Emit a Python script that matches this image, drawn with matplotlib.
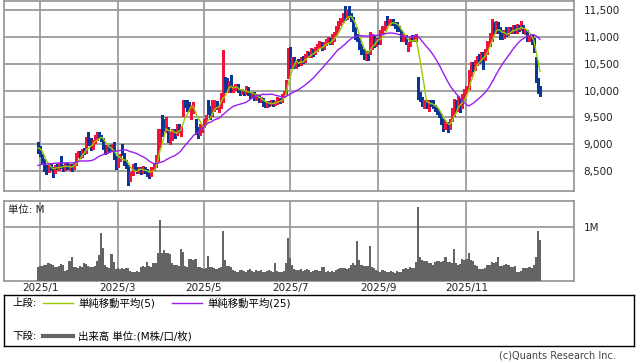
import numpy as np
import pandas as pd
import matplotlib
matplotlib.use("Agg")
from matplotlib import pyplot as plt

plt.rcParams['font.family'] = ['DejaVu Sans', 'Noto Sans CJK JP']

# ---- data, one trading day per entry, Dec 30 2024 .. Dec 2025
opens = [
    9000, 8930, 8800, 8700, 8600, 8500, 8620, 8550, 8480, 8600,
    8560, 8750, 8600, 8540, 8620, 8560, 8600, 8550, 8640, 8800,
    8850, 8780, 8900, 8850, 9200, 9100, 8950, 9050, 9100, 9200,
    9150, 9100, 8950, 8850, 8950, 8900, 9000, 8750, 8600, 8700,
    8900, 8820, 8650, 8600, 8350, 8450, 8600, 8550, 8500, 8540,
    8480, 8560, 8500, 8450, 8420, 8550, 8600, 8700, 8980, 9500,
    9450, 9250, 9300, 9050, 9100, 9250, 9200, 9350, 9180, 9550,
    9800, 9800, 9750, 9500, 9600, 9450, 9300, 9200, 9250, 9350,
    9450, 9800, 9700, 9550, 9650, 9780, 9620, 9700, 9800, 10200,
    10150, 10000, 10200, 10000, 10050, 10100, 10000, 9950, 10000, 9950,
    10050, 9950, 9900, 9950, 9850, 9900, 9800, 9850, 9750, 9720,
    9780, 9750, 9800, 9750, 9780, 9850, 9800, 9900, 9950, 10250,
    10800, 10450, 10600, 10450, 10550, 10500, 10600, 10550, 10650, 10700,
    10650, 10750, 10700, 10780, 10850, 10880, 10800, 10870, 10920, 10950,
    10900, 10950, 11050, 11150, 11250, 11300, 11550, 11350, 11500, 11400,
    11350, 11150, 11000, 10950, 10850, 10750, 10600, 10700, 10700, 10800,
    11000, 10850, 10950, 10900, 11100, 11150, 11350, 11250, 11250, 11300,
    11250, 11250, 11180, 11100, 10950, 11000, 10800, 10850, 11000, 10950,
    10950, 10200, 9950, 9850, 9700, 9800, 9650, 9800, 9800, 9700,
    9650, 9600, 9550, 9450, 9300, 9400, 9300, 9450, 9550, 9800,
    9650, 9850, 9700, 9850, 9950, 10050, 10300, 10500, 10400, 10500,
    10650, 10550, 10700, 10600, 10700, 10850, 10950, 11250, 11100, 11250,
    11150, 11100, 11000, 11150, 11050, 11150, 11100, 11200, 11100, 11200,
    11150, 11200, 11080, 11100, 10950, 11000, 10950, 10600, 10200, 10050,
]
closes = [
    8850, 8800, 8700, 8580, 8500, 8620, 8550, 8480, 8600, 8560,
    8620, 8600, 8540, 8620, 8560, 8600, 8550, 8640, 8800, 8850,
    8780, 8900, 8850, 9100, 9000, 8950, 9050, 9150, 9200, 9150,
    9100, 8950, 8850, 8950, 8900, 8980, 8750, 8580, 8700, 8780,
    8820, 8650, 8600, 8350, 8450, 8600, 8550, 8500, 8540, 8480,
    8560, 8500, 8450, 8400, 8550, 8600, 8700, 9250, 9250, 9200,
    9300, 9450, 9080, 9200, 9250, 9150, 9350, 9250, 9320, 9800,
    9750, 9650, 9650, 9700, 9750, 9250, 9150, 9350, 9350, 9450,
    9500, 9600, 9500, 9800, 9800, 9700, 9680, 9900, 10200, 10000,
    10050, 10150, 10000, 10050, 10100, 10000, 9950, 10000, 9950, 10050,
    9950, 9900, 9950, 9850, 9900, 9800, 9850, 9750, 9720, 9780,
    9750, 9800, 9750, 9780, 9850, 9800, 9900, 9950, 10150, 10750,
    10450, 10600, 10450, 10550, 10500, 10600, 10550, 10650, 10700, 10650,
    10750, 10700, 10780, 10820, 10880, 10800, 10870, 10920, 10950, 10900,
    11000, 11050, 11150, 11250, 11300, 11400, 11350, 11450, 11400, 11350,
    11150, 11000, 10950, 10800, 10700, 10620, 10700, 10650, 11050, 11000,
    10850, 10950, 10900, 11100, 11150, 11250, 11250, 11300, 11300, 11250,
    11200, 11150, 11150, 10950, 11000, 10900, 10850, 10950, 10950, 11000,
    11020, 9900, 9850, 9750, 9800, 9700, 9800, 9750, 9700, 9650,
    9600, 9550, 9400, 9300, 9400, 9300, 9450, 9650, 9800, 9650,
    9850, 9700, 9900, 10000, 10050, 10350, 10500, 10400, 10550, 10600,
    10550, 10700, 10650, 10750, 10900, 11050, 11200, 11100, 11250, 11100,
    11000, 11000, 11100, 11050, 11150, 11100, 11200, 11100, 11200, 11150,
    11250, 11100, 11120, 10950, 11000, 10900, 10750, 10200, 10000, 9950,
]
highs = [
    9050, 8960, 8820, 8720, 8620, 8650, 8650, 8580, 8620, 8640,
    8650, 8780, 8620, 8650, 8650, 8640, 8630, 8660, 8830, 8880,
    8870, 8920, 8930, 9130, 9230, 9120, 9080, 9170, 9230, 9220,
    9180, 9120, 8980, 8990, 8980, 9010, 9040, 8780, 8740, 8820,
    9000, 8840, 8700, 8620, 8480, 8640, 8660, 8580, 8580, 8570,
    8590, 8580, 8530, 8480, 8570, 8650, 8800, 9280, 9280, 9550,
    9480, 9500, 9320, 9230, 9280, 9280, 9380, 9370, 9350, 9830,
    9830, 9830, 9780, 9730, 9790, 9480, 9330, 9380, 9380, 9480,
    9540, 9830, 9720, 9830, 9830, 9800, 9720, 9950, 10760, 10250,
    10240, 10180, 10300, 10080, 10130, 10120, 10030, 10040, 10020, 10080,
    10070, 9980, 9980, 9970, 9930, 9920, 9880, 9870, 9780, 9800,
    9810, 9830, 9820, 9810, 9880, 9870, 9930, 10000, 10200, 10800,
    10820, 10630, 10620, 10580, 10600, 10630, 10640, 10680, 10750, 10730,
    10800, 10780, 10820, 10870, 10920, 10900, 10900, 10960, 11000, 10980,
    11050, 11100, 11200, 11300, 11350, 11450, 11580, 11500, 11580, 11450,
    11380, 11180, 11050, 10980, 10880, 10780, 10730, 10740, 11100, 11050,
    11020, 10980, 10980, 11130, 11200, 11300, 11400, 11340, 11330, 11330,
    11280, 11280, 11200, 11130, 11050, 11030, 10900, 10980, 11030, 11030,
    11050, 10250, 9980, 9880, 9830, 9830, 9830, 9830, 9820, 9730,
    9680, 9630, 9570, 9470, 9430, 9420, 9480, 9680, 9850, 9830,
    9900, 9870, 9930, 10030, 10080, 10380, 10530, 10530, 10580, 10650,
    10680, 10730, 10730, 10780, 10930, 11080, 11330, 11280, 11300, 11280,
    11180, 11130, 11130, 11180, 11180, 11180, 11230, 11230, 11250, 11230,
    11300, 11230, 11150, 11130, 11030, 11030, 10980, 10620, 10230, 10080,
]
lows = [
    8830, 8780, 8650, 8500, 8450, 8480, 8520, 8390, 8460, 8530,
    8520, 8560, 8500, 8520, 8530, 8520, 8510, 8530, 8620, 8760,
    8740, 8760, 8820, 8830, 8980, 8900, 8920, 9020, 9080, 9120,
    9060, 8920, 8820, 8830, 8860, 8880, 8720, 8540, 8580, 8680,
    8800, 8620, 8560, 8240, 8320, 8430, 8520, 8460, 8470, 8450,
    8460, 8470, 8400, 8370, 8400, 8520, 8580, 8680, 8950, 9150,
    9250, 9230, 9050, 9000, 9080, 9120, 9180, 9220, 9150, 9530,
    9700, 9620, 9620, 9480, 9580, 9200, 9120, 9170, 9220, 9330,
    9420, 9570, 9470, 9530, 9620, 9660, 9600, 9680, 9780, 9980,
    10020, 9980, 9980, 9970, 10020, 9970, 9920, 9930, 9920, 9930,
    9920, 9870, 9880, 9830, 9830, 9780, 9780, 9720, 9700, 9700,
    9720, 9730, 9720, 9730, 9760, 9770, 9780, 9880, 9930, 10230,
    10420, 10430, 10420, 10430, 10470, 10480, 10520, 10530, 10620, 10620,
    10630, 10650, 10680, 10750, 10820, 10760, 10780, 10850, 10900, 10870,
    10880, 10930, 11030, 11120, 11220, 11280, 11320, 11330, 11380, 11300,
    11120, 10970, 10920, 10770, 10680, 10600, 10580, 10580, 10680, 10780,
    10820, 10830, 10870, 10880, 11080, 11130, 11230, 11220, 11230, 11220,
    11170, 11120, 11120, 10920, 10930, 10870, 10750, 10830, 10920, 10930,
    10930, 9850, 9800, 9720, 9680, 9670, 9630, 9720, 9670, 9620,
    9570, 9500, 9380, 9250, 9280, 9220, 9280, 9430, 9530, 9620,
    9630, 9600, 9680, 9830, 9930, 10030, 10280, 10370, 10380, 10480,
    10520, 10530, 10400, 10580, 10680, 10830, 10930, 11070, 11080, 11070,
    10970, 10970, 10980, 11020, 11030, 11070, 11080, 11070, 11080, 11120,
    11130, 11070, 11060, 10920, 10930, 10870, 10720, 10170, 9950, 9900,
]
# volume in millions of shares
volumes = [
    0.25, 0.27, 0.28, 0.29, 0.30, 0.32, 0.31, 0.30, 0.26, 0.25,
    0.27, 0.31, 0.30, 0.18, 0.20, 0.36, 0.44, 0.25, 0.26, 0.24,
    0.27, 0.26, 0.32, 0.31, 0.27, 0.25, 0.26, 0.28, 0.36, 0.48,
    0.88, 0.61, 0.30, 0.25, 0.24, 0.49, 0.35, 0.22, 0.23, 0.22,
    0.24, 0.21, 0.23, 0.24, 0.18, 0.17, 0.16, 0.18, 0.17, 0.26,
    0.27, 0.25, 0.35, 0.27, 0.26, 0.32, 0.33, 0.52, 1.12, 0.52,
    0.57, 0.52, 0.51, 0.50, 0.32, 0.30, 0.29, 0.28, 0.59, 0.54,
    0.27, 0.26, 0.40, 0.40, 0.38, 0.41, 0.26, 0.25, 0.23, 0.22,
    0.24, 0.45, 0.26, 0.25, 0.23, 0.22, 0.24, 0.26, 0.92, 0.38,
    0.27, 0.28, 0.26, 0.20, 0.18, 0.17, 0.19, 0.20, 0.18, 0.17,
    0.19, 0.21, 0.18, 0.17, 0.19, 0.18, 0.20, 0.17, 0.16, 0.18,
    0.19, 0.18, 0.17, 0.32, 0.18, 0.17, 0.16, 0.18, 0.32, 0.80,
    0.42, 0.30, 0.22, 0.20, 0.19, 0.21, 0.18, 0.20, 0.22, 0.19,
    0.17, 0.18, 0.20, 0.19, 0.18, 0.26, 0.25, 0.17, 0.18, 0.17,
    0.18, 0.17, 0.20, 0.22, 0.24, 0.23, 0.24, 0.22, 0.24, 0.30,
    0.32, 0.30, 0.73, 0.38, 0.30, 0.28, 0.27, 0.28, 0.64, 0.26,
    0.24, 0.20, 0.18, 0.17, 0.19, 0.18, 0.17, 0.16, 0.18, 0.17,
    0.15, 0.18, 0.17, 0.16, 0.22, 0.24, 0.22, 0.25, 0.24, 0.23,
    0.35, 1.36, 0.43, 0.38, 0.37, 0.36, 0.32, 0.33, 0.30, 0.34,
    0.36, 0.36, 0.35, 0.37, 0.44, 0.35, 0.34, 0.33, 0.59, 0.32,
    0.30, 0.31, 0.40, 0.39, 0.41, 0.52, 0.38, 0.37, 0.29, 0.28,
    0.22, 0.21, 0.22, 0.23, 0.29, 0.30, 0.34, 0.33, 0.35, 0.43,
    0.28, 0.27, 0.30, 0.31, 0.29, 0.26, 0.25, 0.27, 0.17, 0.16,
    0.18, 0.24, 0.23, 0.24, 0.25, 0.24, 0.30, 0.44, 0.92, 0.75,
]
# closes before the visible window (only feed the moving averages)
prior_closes = [8450, 8400, 8480, 8520, 8550, 8500, 8460, 8420, 8480, 8550,
                8600, 8580, 8520, 8560, 8600, 8620, 8580, 8500, 8520, 8560,
                8850, 8950, 9000, 9000]

jp_holidays = ['2024-12-31', '2025-01-01', '2025-01-02', '2025-01-03', '2025-01-13',
               '2025-02-11', '2025-02-24', '2025-03-20', '2025-04-29', '2025-05-05',
               '2025-05-06', '2025-07-21', '2025-08-11', '2025-09-15', '2025-09-23',
               '2025-10-13', '2025-11-03', '2025-11-24']

price_ticks = [8500, 9000, 9500, 10000, 10500, 11000, 11500]

UP = '#f0143c'
DOWN = '#0a3796'
MA5_C = '#99cc00'
MA25_C = '#9a1cf0'
GRID = '#9a9a9a'

n = len(closes)
days = pd.bdate_range('2024-12-30', '2025-12-31')
days = days[~days.isin(pd.to_datetime(jp_holidays))][:n]
idx = np.arange(n)

allc = pd.Series(prior_closes + closes)
ma5 = allc.rolling(5).mean().values[len(prior_closes):]
ma25 = allc.rolling(25).mean().values[len(prior_closes):]

# first trading day of each month, label odd months
month_pos = [i for i in range(n) if i == 0 or days[i].month != days[i - 1].month]
month_pos = [i for i in month_pos if days[i].year == 2025]
label_pos = [i for i in month_pos if days[i].month % 2 == 1]
label_txt = ['%d/%d' % (days[i].year, days[i].month) for i in label_pos]

W, H = 638, 362
fig = plt.figure(figsize=(W / 100, H / 100), dpi=100)

def px_axes(x0, y0, x1, y1):
    return fig.add_axes([x0 / W, 1 - y1 / H, (x1 - x0) / W, (y1 - y0) / H])

xlim = (-16.2, 255.2)

# ---- price panel
ax = px_axes(4, 0.5, 574, 190.7)
o, c, h, l = map(np.array, (opens, closes, highs, lows))
col = np.where(c >= o, UP, DOWN)
ax.vlines(idx, l, h, colors=col, lw=1.0, zorder=3, antialiased=False)
body = np.abs(c - o)
body = np.where(body < 20, 20, body)
ax.bar(idx, body, bottom=np.minimum(o, c), width=0.95, color=col, lw=0,
       zorder=3, antialiased=False)
ax.plot(idx, ma5, color=MA5_C, lw=1.0, zorder=4)
ax.plot(idx, ma25, color=MA25_C, lw=1.0, zorder=4)
ax.set_xlim(*xlim)
ax.set_ylim(8134, 11683)
ax.set_yticks(price_ticks)
ax.set_yticklabels(['{:,}'.format(v) for v in price_ticks])
ax.set_xticks(label_pos)
ax.tick_params(axis='x', labelbottom=False, length=0)
ax.yaxis.tick_right()
ax.tick_params(axis='y', length=0, pad=7, labelsize=7.5, colors='#222222')
ax.grid(True, color=GRID, lw=1.3)
for s in ax.spines.values():
    s.set_color(GRID)
    s.set_linewidth(1.3)

# ---- volume panel
av = px_axes(4, 201, 574, 280.7)
av.bar(idx, volumes, width=1.0, color='#646464', lw=0, zorder=3, antialiased=False)
av.set_xlim(*xlim)
av.set_ylim(0, 1.476)
av.set_yticks([1.0])
av.set_yticklabels(['1M'])
av.yaxis.tick_right()
av.tick_params(axis='y', length=0, pad=7, labelsize=7.5, colors='#222222')
av.set_xticks(label_pos)
av.set_xticklabels(label_txt)
av.tick_params(axis='x', length=0, pad=2, labelsize=7.5, colors='#222222')
av.grid(True, color=GRID, lw=1.3)
for s in av.spines.values():
    s.set_color(GRID)
    s.set_linewidth(1.3)
av.text(4 / 570, 0.89, '単位: M', transform=av.transAxes, fontsize=7.5,
        va='center', ha='left', color='#222222')

# ---- legend box
lg = px_axes(4, 295, 634, 346)
lg.set_xlim(0, 630)
lg.set_ylim(51, 0)
lg.set_xticks([])
lg.set_yticks([])
for s in lg.spines.values():
    s.set_color('black')
    s.set_linewidth(1.0)
lg.text(8, 8, '上段:', fontsize=7.5, va='center', ha='left')
lg.plot([39, 69], [8, 8], color=MA5_C, lw=1.0)
lg.text(74, 8, '単純移動平均(5)', fontsize=7.5, va='center', ha='left')
lg.plot([168, 198], [8, 8], color=MA25_C, lw=1.0)
lg.text(203, 8, '単純移動平均(25)', fontsize=7.5, va='center', ha='left')
lg.text(8, 41, '下段:', fontsize=7.5, va='center', ha='left')
lg.plot([39, 69], [41, 41], color='#646464', lw=3.0)
lg.text(74, 41, '出来高 単位:(M株/口/枚)', fontsize=7.5, va='center', ha='left')

fig.text(616 / W, 1 - 356 / H, '(c)Quants Research Inc.', fontsize=7,
         ha='right', va='center', color='#444444')

fig.savefig('out.png', dpi=100)
